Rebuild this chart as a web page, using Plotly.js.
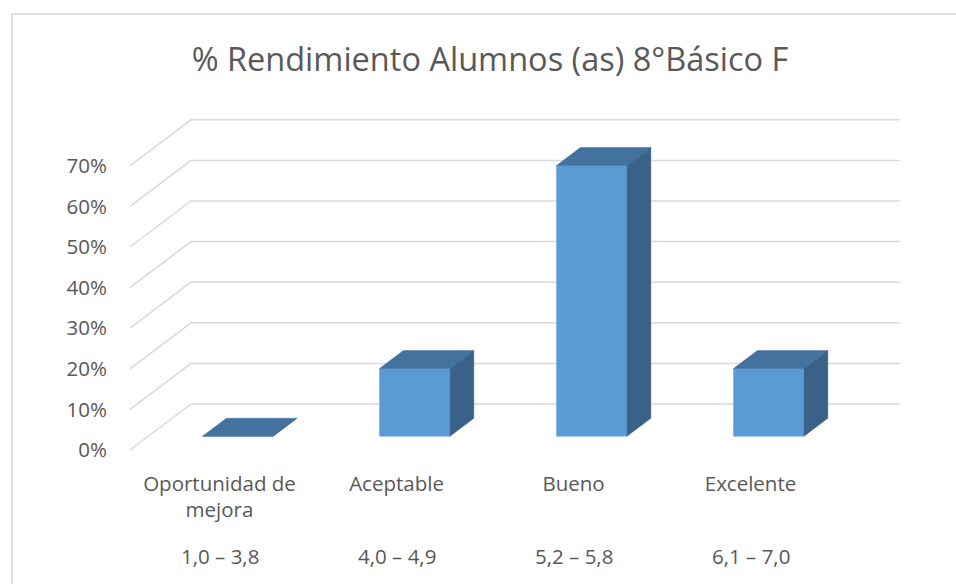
<!DOCTYPE html>
<html>
<head>
<meta charset="utf-8">
<script src="https://cdn.plot.ly/plotly-3.0.1.min.js"></script>
<style>
  html, body { margin: 0; padding: 0; background: #ffffff; }
  #chart { width: 956px; height: 584px; }
</style>
</head>
<body>
<div id="chart"></div>
<script>
// ---------------- data ----------------
const categories = ["Oportunidad de<br>mejora", "Aceptable", "Bueno", "Excelente"];
const gradeRanges = ["1,0 – 3,8", "4,0 – 4,9", "5,2 – 5,8", "6,1 – 7,0"];
const percentages = [0, 0.1667, 0.6667, 0.1667];
const yTickValues = [0, 0.1, 0.2, 0.3, 0.4, 0.5, 0.6, 0.7];
const chartTitle = "% Rendimiento Alumnos (as) 8°Básico F";

// ---------------- geometry (pixels -> axis units) ----------------
const W = 956, H = 584;
const PL = 128, PR = 926, PT = 100, PB = 460;       // plot area
const X0PX = 219.5, XPX = 177;                      // category 0 on front plane, px per category
const Y0PX = 450, YPX = 406;                        // 0% on front plane, px per 100%
const xRange = [(PL - X0PX) / XPX, (PR - X0PX) / XPX];
const yRange = [(Y0PX - PB) / YPX, (Y0PX - PT) / YPX];
const DX = 61 / XPX, DY = 46 / YPX;                 // full depth (front plane -> back wall)
const DF = 0.30, DB = 0.69;                         // bar front / back depth fractions
const HW = 35.25 / XPX;                             // half bar width
const XL = (130 - X0PX) / XPX, XR = (900 - X0PX) / XPX;

const txt = "#595959";
const font = "'Open Sans', 'DejaVu Sans', sans-serif";
const cFront = "#5B9BD5", cTop = "#44729F", cSide = "#3A6289";
const tickSize = 20.5;

const idx = categories.map((_, i) => i);

// gridlines (back wall + diagonal on side)
const shapes = [];
yTickValues.forEach(t => {
  shapes.push({type: "line", xref: "x", yref: "y", layer: "below",
    x0: XL, y0: t, x1: XL + DX, y1: t + DY, line: {color: "#D9D9D9", width: 1.5}});
  shapes.push({type: "line", xref: "x", yref: "y", layer: "below",
    x0: XL + DX, y0: t + DY, x1: XR, y1: t + DY, line: {color: "#D9D9D9", width: 1.5}});
});
// chart border
shapes.push({type: "rect", xref: "paper", yref: "paper", layer: "below",
  x0: (12 - PL) / (PR - PL), x1: (962 - PL) / (PR - PL),
  y0: (PB - 592) / (PB - PT), y1: (PB - 14) / (PB - PT),
  line: {color: "#D9D9D9", width: 1.5}, fillcolor: "rgba(0,0,0,0)"});

// front faces (bar trace)
const frontFaces = {
  type: "bar",
  x: idx.map(i => i + DF * DX),
  y: percentages,
  base: percentages.map(() => DF * DY),
  width: 2 * HW,
  marker: {color: cFront, line: {color: "#6FA6DA", width: 0.6}},
  hoverinfo: "skip",
  showlegend: false
};

// top faces & side faces computed from the values
const topX = [], topY = [], sideX = [], sideY = [];
idx.forEach(i => {
  const v = percentages[i];
  const xl = i - HW, xr = i + HW;
  topX.push(xl + DF * DX, xr + DF * DX, xr + DB * DX, xl + DB * DX, xl + DF * DX, null);
  topY.push(DF * DY + v, DF * DY + v, DB * DY + v, DB * DY + v, DF * DY + v, null);
  sideX.push(xr + DF * DX, xr + DF * DX, xr + DB * DX, xr + DB * DX, xr + DF * DX, null);
  sideY.push(DF * DY, DF * DY + v, DB * DY + v, DB * DY, DF * DY, null);
});
const topFaces = {type: "scatter", mode: "lines", x: topX, y: topY, fill: "toself",
  fillcolor: cTop, line: {color: cTop, width: 0.5}, hoverinfo: "skip", showlegend: false};
const sideFaces = {type: "scatter", mode: "lines", x: sideX, y: sideY, fill: "toself",
  fillcolor: cSide, line: {color: cSide, width: 0.5}, hoverinfo: "skip", showlegend: false};

const annotations = gradeRanges.map((r, i) => ({
  text: r, x: i, xref: "x", y: (PB - 556) / (PB - PT), yref: "paper",
  yanchor: "middle", xanchor: "center", showarrow: false,
  font: {family: font, size: tickSize, color: txt}
}));

const layout = {
  width: W, height: H,
  margin: {l: PL, r: W - PR, t: PT, b: H - PB, pad: 0},
  paper_bgcolor: "#ffffff", plot_bgcolor: "rgba(0,0,0,0)",
  title: {text: chartTitle, x: 490 / W, xref: "container", xanchor: "center",
    y: 1 - 60 / H, yref: "container", yanchor: "middle",
    font: {family: font, size: 32.5, color: txt}},
  xaxis: {range: xRange, tickmode: "array", tickvals: idx, ticktext: categories,
    showgrid: false, zeroline: false, showline: false,
    ticks: "outside", ticklen: 5, tickcolor: "rgba(0,0,0,0)",
    tickfont: {family: font, size: tickSize, color: txt}, fixedrange: true},
  yaxis: {range: yRange, tickmode: "array", tickvals: yTickValues, tickformat: ".0%",
    showgrid: false, zeroline: false, showline: false,
    ticks: "outside", ticklen: 16, tickcolor: "rgba(0,0,0,0)",
    tickfont: {family: font, size: tickSize, color: txt}, fixedrange: true},
  shapes: shapes,
  annotations: annotations,
  bargap: 0
};

Plotly.newPlot("chart", [frontFaces, topFaces, sideFaces], layout, {displayModeBar: false, staticPlot: true});
</script>
</body>
</html>
